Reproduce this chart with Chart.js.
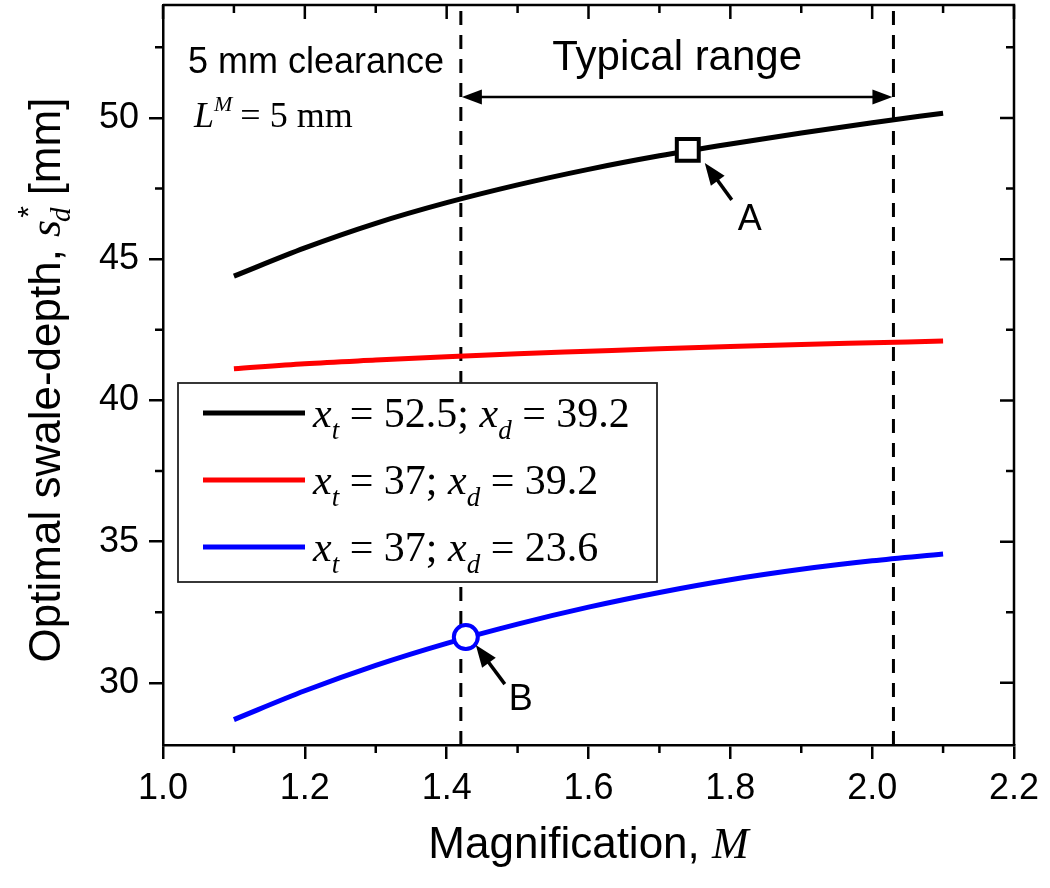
<!DOCTYPE html>
<html>
<head>
<meta charset="utf-8">
<script src="https://cdn.jsdelivr.net/npm/chart.js@4.4.1/dist/chart.umd.min.js"></script>
<style>
  html, body { margin: 0; padding: 0; background: #fff; }
  canvas { display: block; }
</style>
</head>
<body>
<canvas id="swale" width="1050" height="888"></canvas>
<script>
// valores
const magnification = [1.1, 1.2, 1.3, 1.4, 1.5, 1.6, 1.7, 1.8, 1.9, 2.0, 2.1];
const depthBlack = [44.4, 45.4, 46.27, 47.0, 47.63, 48.18, 48.66, 49.08, 49.47, 49.83, 50.17];
const depthRed   = [41.12, 41.3, 41.43, 41.55, 41.65, 41.74, 41.83, 41.91, 41.98, 42.04, 42.1];
const depthBlue  = [28.7, 29.72, 30.62, 31.4, 32.08, 32.68, 33.2, 33.65, 34.02, 34.32, 34.56];

const xtValues = ['52.5', '37', '37'];
const xdValues = ['39.2', '39.2', '23.6'];
const seriesColors = ['#000000', '#ff0000', '#0000ff'];

const markerNames = ['A', 'B'];
const markerX = [1.74, 1.427];
const markerY = [48.87, 31.62];

const typicalRange = [1.42, 2.03];

const xTicks = [1.0, 1.2, 1.4, 1.6, 1.8, 2.0, 2.2];
const xMinorTicks = [1.1, 1.3, 1.5, 1.7, 1.9, 2.1];
const yTicks = [30, 35, 40, 45, 50];
const yMinorTicks = [32.5, 37.5, 42.5, 47.5, 52.5];

const SANS = '"Liberation Sans", Arial, sans-serif';
const SERIF = '"Liberation Serif", "Times New Roman", serif';

function pts(ys) {
    return magnification.map((x, i) => ({ x: x, y: ys[i] }));
}

// escreve pedacos de texto com fontes diferentes numa linha
function drawRuns(ctx, runs, x, y, align) {
    let total = 0;
    runs.forEach(r => { ctx.font = r.font; r.w = ctx.measureText(r.text).width; total += r.w + (r.gap || 0); });
    let cx = align == 'center' ? x - total / 2 : x;
    ctx.textAlign = 'left';
    ctx.textBaseline = 'alphabetic';
    runs.forEach(r => {
        ctx.font = r.font;
        ctx.fillText(r.text, cx + (r.dx || 0), y + (r.dy || 0));
        cx += r.w + (r.gap || 0);
    });
}

function arrowHead(ctx, tx, ty, fx, fy, len, wid) {
    const a = Math.atan2(ty - fy, tx - fx);
    ctx.beginPath();
    ctx.moveTo(tx, ty);
    ctx.lineTo(tx - len * Math.cos(a) + wid / 2 * Math.sin(a), ty - len * Math.sin(a) - wid / 2 * Math.cos(a));
    ctx.lineTo(tx - len * Math.cos(a) - wid / 2 * Math.sin(a), ty - len * Math.sin(a) + wid / 2 * Math.cos(a));
    ctx.closePath();
    ctx.fill();
}

function arrow(ctx, fx, fy, tx, ty) {
    const a = Math.atan2(ty - fy, tx - fx);
    ctx.beginPath();
    ctx.moveTo(fx, fy);
    ctx.lineTo(tx - 12 * Math.cos(a), ty - 12 * Math.sin(a));
    ctx.stroke();
    arrowHead(ctx, tx, ty, fx, fy, 22, 17);
}

const framePlugin = {
    id: 'frame',
    afterDatasetsDraw(chart) {
        const ctx = chart.ctx;
        const xs = chart.scales.x, ys = chart.scales.y;
        const a = chart.chartArea;
        ctx.save();
        ctx.fillStyle = '#000';
        ctx.strokeStyle = '#000';

        // seta da faixa tipica
        const ay = ys.getPixelForValue(50.74);
        const x1 = xs.getPixelForValue(typicalRange[0]);
        const x2 = xs.getPixelForValue(typicalRange[1]);
        ctx.lineWidth = 2.5;
        ctx.beginPath();
        ctx.moveTo(x1 + 10, ay);
        ctx.lineTo(x2 - 10, ay);
        ctx.stroke();
        arrowHead(ctx, x1 + 1, ay, x2, ay, 20, 15);
        arrowHead(ctx, x2 - 1, ay, x1, ay, 20, 15);

        ctx.font = '42px ' + SANS;
        ctx.textAlign = 'center';
        ctx.fillText('Typical range', (x1 + x2) / 2, ys.getPixelForValue(51.7));

        ctx.textAlign = 'left';
        ctx.font = '36px ' + SANS;
        ctx.fillText('5 mm clearance', a.left + 25, ys.getPixelForValue(51.6));
        drawRuns(ctx, [
            { text: 'L', font: 'italic 36px ' + SERIF },
            { text: 'M', font: 'italic 22px ' + SERIF, dy: -16, gap: 8 },
            { text: '= 5 mm', font: '36px ' + SERIF }
        ], a.left + 31, ys.getPixelForValue(49.68), 'left');

        // anotacoes A e B
        ctx.lineWidth = 3.5;
        const offs = [[17, 13, 44, 50, 62, 80], [10, 8, 39, 47, 55, 73]];
        markerNames.forEach((n, i) => {
            const px = xs.getPixelForValue(markerX[i]);
            const py = ys.getPixelForValue(markerY[i]);
            const o = offs[i];
            arrow(ctx, px + o[2], py + o[3], px + o[0], py + o[1]);
            ctx.font = '36px ' + SANS;
            ctx.textAlign = 'center';
            ctx.fillText(n, px + o[4], py + o[5]);
        });

        // legenda
        const lx = 178, ly = 383, lw = 479, lh = 199;
        ctx.fillStyle = '#fff';
        ctx.fillRect(lx, ly, lw, lh);
        ctx.lineWidth = 1.8;
        ctx.strokeStyle = '#222';
        ctx.strokeRect(lx, ly, lw, lh);
        const rowY = [413, 480, 547];
        xtValues.forEach((xt, i) => {
            ctx.strokeStyle = seriesColors[i];
            ctx.lineWidth = 5;
            ctx.beginPath();
            ctx.moveTo(203, rowY[i]);
            ctx.lineTo(305, rowY[i]);
            ctx.stroke();
            ctx.fillStyle = '#000';
            drawRuns(ctx, [
                { text: 'x', font: 'italic 42px ' + SERIF },
                { text: 't', font: 'italic 27px ' + SERIF, dy: 12 },
                { text: ' = ' + xt + '; ', font: '42px ' + SERIF },
                { text: 'x', font: 'italic 42px ' + SERIF },
                { text: 'd', font: 'italic 27px ' + SERIF, dy: 12 },
                { text: ' = ' + xdValues[i], font: '42px ' + SERIF }
            ], 313, rowY[i] + 14, 'left');
        });
        ctx.restore();
    },
    afterDraw(chart) {
        const ctx = chart.ctx;
        const xs = chart.scales.x, ys = chart.scales.y;
        const a = chart.chartArea;
        ctx.save();
        ctx.strokeStyle = '#000';
        ctx.fillStyle = '#000';
        ctx.lineWidth = 2.5;
        ctx.beginPath();
        ctx.moveTo(a.left, a.top);
        ctx.lineTo(a.right, a.top);
        ctx.lineTo(a.right, a.bottom);
        ctx.stroke();

        ctx.beginPath();
        xTicks.forEach(v => {
            const p = xs.getPixelForValue(v);
            ctx.moveTo(p, a.top); ctx.lineTo(p, a.top + 14);
        });
        xMinorTicks.forEach(v => {
            const p = xs.getPixelForValue(v);
            ctx.moveTo(p, a.top); ctx.lineTo(p, a.top + 8);
            ctx.moveTo(p, a.bottom); ctx.lineTo(p, a.bottom + 8);
        });
        yTicks.forEach(v => {
            const p = ys.getPixelForValue(v);
            ctx.moveTo(a.right, p); ctx.lineTo(a.right - 14, p);
        });
        yMinorTicks.forEach(v => {
            const p = ys.getPixelForValue(v);
            ctx.moveTo(a.right, p); ctx.lineTo(a.right - 8, p);
            ctx.moveTo(a.left, p); ctx.lineTo(a.left - 8, p);
        });
        ctx.stroke();

        // titulos dos eixos
        drawRuns(ctx, [
            { text: 'Magnification, ', font: '44px ' + SANS },
            { text: 'M', font: 'italic 44px ' + SERIF }
        ], (a.left + a.right) / 2, 858, 'center');

        ctx.translate(60, (a.top + a.bottom) / 2 + 5);
        ctx.rotate(-Math.PI / 2);
        drawRuns(ctx, [
            { text: 'Optimal swale-depth, ', font: '44px ' + SANS },
            { text: 's', font: 'italic 44px ' + SERIF },
            { text: '*', font: '30px ' + SANS, dy: -22, dx: 2, gap: -14 },
            { text: 'd', font: 'italic 29px ' + SERIF, dy: 10 },
            { text: ' [mm]', font: '44px ' + SANS }
        ], 0, 0, 'center');
        ctx.restore();
    }
};

const datasets = [
    { data: pts(depthBlack), borderColor: seriesColors[0], borderWidth: 5, order: 1 },
    { data: pts(depthRed), borderColor: seriesColors[1], borderWidth: 5, order: 1 },
    { data: pts(depthBlue), borderColor: seriesColors[2], borderWidth: 5, order: 1 },
    { data: [{ x: markerX[0], y: markerY[0] }], showLine: false, pointStyle: 'rect', pointRadius: 15.5,
      pointBackgroundColor: '#fff', pointBorderColor: '#000', pointBorderWidth: 4, order: 0 },
    { data: [{ x: markerX[1], y: markerY[1] }], showLine: false, pointStyle: 'circle', pointRadius: 12,
      pointBackgroundColor: '#fff', pointBorderColor: '#0000ff', pointBorderWidth: 4, order: 0 },
    { data: [{ x: typicalRange[0], y: 27.8 }, { x: typicalRange[0], y: 54 }], borderColor: '#000',
      borderWidth: 3, borderDash: [14, 10], order: 2 },
    { data: [{ x: typicalRange[1], y: 27.8 }, { x: typicalRange[1], y: 54 }], borderColor: '#000',
      borderWidth: 3, borderDash: [14, 10], order: 2 }
];
datasets.forEach((d, i) => {
    if (i < 3) { d.pointRadius = 0; d.tension = 0.4; d.cubicInterpolationMode = 'monotone'; }
    if (i > 4) { d.pointRadius = 0; }
});

new Chart(document.getElementById('swale').getContext('2d'), {
    type: 'line',
    data: { datasets: datasets },
    options: {
        responsive: false,
        animation: false,
        devicePixelRatio: 1,
        layout: { autoPadding: false, padding: { top: 5, right: 36, left: 0, bottom: 0 } },
        plugins: { legend: { display: false }, tooltip: { enabled: false } },
        scales: {
            x: {
                type: 'linear', min: 1.0, max: 2.2,
                afterFit: s => { s.height = 143; s.paddingLeft = 0; s.paddingRight = 0; },
                afterBuildTicks: s => { s.ticks = xTicks.map(v => ({ value: v })); },
                grid: { drawOnChartArea: false, tickLength: 14, color: '#000', lineWidth: 2.5 },
                border: { color: '#000', width: 2.5 },
                ticks: { color: '#000', padding: 8, font: { family: SANS, size: 36 },
                         maxRotation: 0, callback: v => v.toFixed(1) }
            },
            y: {
                type: 'linear', min: 27.8, max: 54,
                afterFit: s => { s.width = 163; s.paddingTop = 0; s.paddingBottom = 0; },
                afterBuildTicks: s => { s.ticks = yTicks.map(v => ({ value: v })); },
                grid: { drawOnChartArea: false, tickLength: 14, color: '#000', lineWidth: 2.5 },
                border: { color: '#000', width: 2.5 },
                ticks: { color: '#000', padding: 10, font: { family: SANS, size: 36 } }
            }
        }
    },
    plugins: [framePlugin]
});
</script>
</body>
</html>
